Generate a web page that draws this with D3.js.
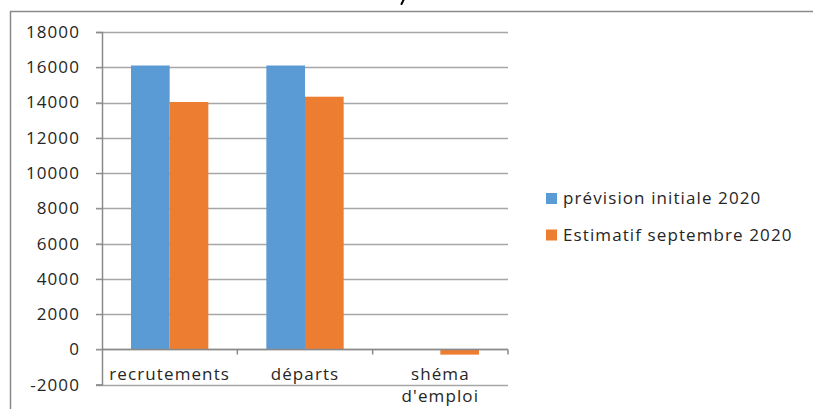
<!DOCTYPE html>
<html>
<head>
<meta charset="utf-8">
<script src="https://cdn.jsdelivr.net/npm/d3@7"></script>
<style>
  html, body { margin: 0; padding: 0; background: #fff; }
  svg { display: block; font-family: "Open Sans", sans-serif; }
</style>
</head>
<body>
<svg id="chart" width="813" height="409"></svg>
<script>
// Data
const categories = ["recrutements", "départs", "shéma d'emploi"];
const categoryLines = [["recrutements"], ["départs"], ["shéma", "d'emploi"]];
const seriesNames = ["prévision initiale 2020", "Estimatif septembre 2020"];
const prevision = [16100, 16100, 0];
const estimatif = [14030, 14330, -300];
const yTicks = [-2000, 0, 2000, 4000, 6000, 8000, 10000, 12000, 14000, 16000, 18000];
const colors = ["#5b9bd5", "#ed7d31"];

const svg = d3.select("#chart");
const textColor = "#262626";
const fontSize = 17;
const spacing = 1.1;

// Outer chart frame (only top and left edges fall inside the view)
svg.append("path")
  .attr("d", "M10.5,409 V11.5 H813")
  .attr("fill", "none")
  .attr("stroke", "#8a8a8a")
  .attr("stroke-width", 1.5);

// Tail of the heading stroke poking in above the frame
svg.append("path")
  .attr("d", "M403.5,0 L401.5,4")
  .attr("stroke", "#000")
  .attr("stroke-width", 2)
  .attr("stroke-linecap", "round");

const plot = { left: 102, right: 508, top: 32, bottom: 384.6 };

const y = d3.scaleLinear().domain([-2000, 18000]).range([plot.bottom, plot.top]);
const x = d3.scaleBand().domain(categories).range([plot.left, plot.right]).paddingInner(0).paddingOuter(0);
const xs = d3.scaleBand().domain(seriesNames).range([0, x.bandwidth()]).paddingInner(0).paddingOuter(0.75);

// Horizontal gridlines
svg.append("g")
  .selectAll("line")
  .data(yTicks)
  .join("line")
  .attr("x1", plot.left - 6).attr("x2", plot.right)
  .attr("y1", d => Math.round(y(d)) + 0.5).attr("y2", d => Math.round(y(d)) + 0.5)
  .attr("stroke", "#a6a6a6")
  .attr("stroke-width", 1.5);

// Value axis
const yAxis = d3.axisLeft(y).tickValues(yTicks).tickSize(6).tickPadding(16).tickFormat(d => String(d));
const gy = svg.append("g").attr("transform", `translate(${plot.left},0)`).call(yAxis);
gy.select(".domain").attr("stroke", "#8a8a8a").attr("stroke-width", 1.5);
gy.selectAll(".tick line").attr("stroke", "#8a8a8a");
gy.selectAll(".tick text")
  .attr("font-size", fontSize)
  .attr("font-family", "Open Sans, sans-serif")
  .attr("letter-spacing", spacing)
  .attr("fill", textColor);

// Bars
const data = categories.map((c, i) => ({ cat: c, values: [prevision[i], estimatif[i]] }));
const groups = svg.append("g").selectAll("g")
  .data(data)
  .join("g")
  .attr("transform", d => `translate(${x(d.cat)},0)`);

groups.selectAll("rect")
  .data(d => d.values.map((v, k) => ({ name: seriesNames[k], value: v, k })))
  .join("rect")
  .attr("x", d => xs(d.name))
  .attr("width", xs.bandwidth())
  .attr("y", d => y(Math.max(0, d.value)))
  .attr("height", d => Math.abs(y(d.value) - y(0)))
  .attr("fill", d => colors[d.k]);

// Category axis along zero
const y0 = Math.round(y(0)) + 0.5;
svg.append("line")
  .attr("x1", plot.left).attr("x2", plot.right)
  .attr("y1", y0).attr("y2", y0)
  .attr("stroke", "#8a8a8a").attr("stroke-width", 1.5);

const boundaries = categories.map(c => x(c)).concat([plot.right]);
svg.append("g").selectAll("line")
  .data(boundaries.slice(1))
  .join("line")
  .attr("x1", d => d).attr("x2", d => d)
  .attr("y1", y0).attr("y2", y0 + 5)
  .attr("stroke", "#8a8a8a").attr("stroke-width", 1.5);

// Category labels
svg.append("g").selectAll("text")
  .data(categories)
  .join("text")
  .attr("text-anchor", "middle")
  .attr("font-size", fontSize)
  .attr("letter-spacing", spacing)
  .attr("fill", textColor)
  .each(function (c, i) {
    const t = d3.select(this);
    categoryLines[i].forEach((line, j) => {
      t.append("tspan")
        .attr("x", x(c) + x.bandwidth() / 2)
        .attr("y", 380 + j * 21.5)
        .text(line);
    });
  });

// Legend
const legend = svg.append("g").selectAll("g")
  .data(seriesNames)
  .join("g")
  .attr("transform", (d, i) => `translate(546,${193 + i * 36.5})`);
legend.append("rect").attr("width", 11).attr("height", 11).attr("fill", (d, i) => colors[i]);
legend.append("text")
  .attr("x", 17).attr("y", 11)
  .attr("font-size", fontSize)
  .attr("letter-spacing", spacing)
  .attr("fill", textColor)
  .text(d => d);
</script>
</body>
</html>
